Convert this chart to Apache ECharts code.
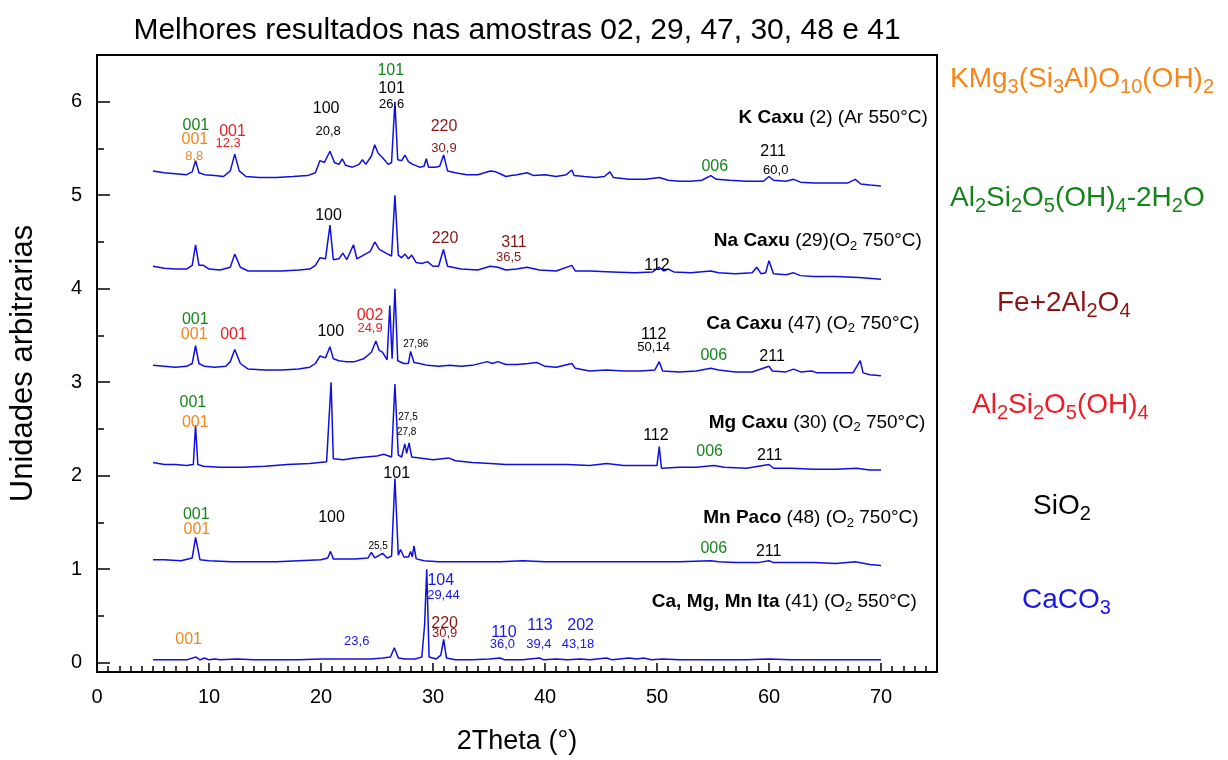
<!DOCTYPE html>
<html>
<head>
<meta charset="utf-8">
<script src="https://cdn.jsdelivr.net/npm/echarts@6/dist/echarts.min.js"></script>
<style>
html, body { margin: 0; padding: 0; background: #fff; }
#chart { width: 1228px; height: 760px; }
</style>
</head>
<body>
<div id="chart"></div>
<script>
// difratogramas deslocados verticalmente (2theta, intensidade arbitraria)
var kCaxu = [[5,5.26],[6,5.24],[7,5.23],[8,5.22],[8.5,5.25],[8.8,5.37],[9.1,5.24],[9.6,5.22],[10.5,5.21],[11.3,5.2],[11.9,5.26],[12.3,5.44],[12.7,5.26],[13.3,5.2],[14.5,5.19],[16,5.19],[17.5,5.2],[18.8,5.21],[19.5,5.24],[19.9,5.37],[20.3,5.35],[20.8,5.47],[21.2,5.35],[21.6,5.33],[21.9,5.39],[22.2,5.32],[22.8,5.3],[23.4,5.33],[23.7,5.38],[24.0,5.33],[24.5,5.42],[24.8,5.54],[25.1,5.45],[25.5,5.4],[26.0,5.33],[26.3,5.35],[26.6,6.0],[26.85,5.38],[27.2,5.37],[27.5,5.43],[27.8,5.36],[28.2,5.33],[28.8,5.3],[29.2,5.31],[29.4,5.39],[29.6,5.3],[30.2,5.3],[30.6,5.31],[30.95,5.43],[31.3,5.26],[32,5.24],[33,5.22],[34,5.22],[34.6,5.24],[35.1,5.26],[35.6,5.25],[36,5.23],[36.5,5.2],[37,5.21],[37.5,5.22],[38.4,5.24],[39,5.21],[40,5.22],[41,5.2],[41.9,5.22],[42.4,5.27],[42.6,5.21],[43.5,5.2],[44.5,5.19],[45.3,5.2],[45.8,5.25],[46.1,5.19],[47.5,5.17],[49,5.17],[50.2,5.19],[51,5.16],[52,5.15],[53,5.15],[54,5.16],[54.8,5.21],[55.3,5.17],[56.5,5.16],[58,5.15],[59.5,5.15],[60,5.2],[60.4,5.16],[61.5,5.15],[62.2,5.17],[62.8,5.14],[64,5.13],[65.5,5.13],[67,5.13],[67.7,5.17],[68.2,5.12],[69,5.11],[70,5.1]];
var naCaxu = [[5,4.24],[6,4.22],[7,4.21],[8,4.21],[8.5,4.25],[8.8,4.47],[9.1,4.25],[9.5,4.25],[10,4.21],[11,4.2],[11.9,4.23],[12.3,4.37],[12.8,4.23],[13.5,4.19],[15,4.19],[16.5,4.19],[18,4.2],[19,4.21],[19.5,4.25],[19.9,4.33],[20.4,4.32],[20.8,4.68],[21.1,4.31],[21.6,4.32],[21.95,4.38],[22.3,4.31],[22.9,4.47],[23.2,4.32],[23.8,4.36],[24.4,4.4],[24.8,4.5],[25.2,4.42],[25.8,4.38],[26.3,4.35],[26.6,5.0],[26.9,4.36],[27.2,4.33],[27.5,4.37],[27.8,4.32],[28.1,4.36],[28.5,4.28],[29,4.27],[29.5,4.29],[30,4.24],[30.5,4.24],[30.93,4.42],[31.3,4.24],[32.5,4.21],[34,4.2],[35.1,4.24],[35.8,4.23],[36.5,4.2],[37.5,4.21],[38.4,4.23],[39.5,4.2],[41,4.19],[42.4,4.25],[42.7,4.19],[44,4.19],[46,4.18],[48,4.17],[49.6,4.18],[50.2,4.23],[50.6,4.19],[51,4.21],[51.5,4.18],[53,4.17],[54.8,4.19],[55.5,4.17],[57,4.16],[58.5,4.17],[58.9,4.23],[59.3,4.16],[59.7,4.17],[60,4.3],[60.4,4.16],[61.5,4.15],[62.2,4.17],[62.8,4.14],[64,4.13],[66,4.13],[68,4.12],[70,4.1]];
var caCaxu = [[5,3.18],[6,3.17],[7,3.16],[8,3.17],[8.5,3.2],[8.8,3.39],[9.1,3.2],[9.6,3.17],[10.5,3.16],[11.5,3.17],[11.9,3.22],[12.3,3.35],[12.8,3.2],[13.5,3.14],[15,3.13],[16.5,3.13],[18,3.14],[19,3.16],[19.5,3.2],[19.9,3.28],[20.4,3.26],[20.8,3.38],[21.1,3.25],[21.6,3.23],[22.2,3.22],[23,3.22],[23.8,3.25],[24.5,3.32],[24.9,3.44],[25.2,3.34],[25.5,3.32],[25.9,3.24],[26.14,3.82],[26.35,3.25],[26.6,4.0],[26.85,3.23],[27.4,3.2],[27.8,3.2],[28.0,3.33],[28.3,3.21],[28.8,3.2],[29.5,3.18],[30.5,3.17],[31.5,3.18],[32.5,3.17],[33.5,3.18],[34.85,3.22],[35.3,3.2],[35.8,3.22],[36.5,3.19],[37.5,3.19],[38.5,3.2],[39.3,3.21],[40,3.17],[41,3.16],[42.4,3.2],[42.7,3.15],[44,3.12],[45.5,3.13],[47,3.12],[48.5,3.12],[49.8,3.13],[50.2,3.22],[50.5,3.12],[52,3.11],[53.5,3.12],[54.8,3.15],[55.5,3.13],[57,3.11],[58.5,3.11],[60,3.17],[60.3,3.12],[61.5,3.11],[62.2,3.14],[62.8,3.11],[63.8,3.12],[64.3,3.1],[66,3.1],[67.5,3.1],[68.15,3.23],[68.4,3.1],[69,3.08],[70,3.07]];
var mgCaxu = [[5,2.14],[6,2.12],[7,2.12],[8,2.11],[8.6,2.12],[8.8,2.54],[9.0,2.12],[9.5,2.1],[11,2.09],[13,2.09],[15,2.1],[17,2.12],[19,2.13],[20.5,2.15],[20.9,3.0],[21.1,2.18],[22,2.17],[23,2.19],[24,2.2],[25,2.21],[25.6,2.23],[26.3,2.2],[26.6,2.98],[26.9,2.22],[27.2,2.2],[27.48,2.34],[27.65,2.24],[27.86,2.35],[28.1,2.2],[28.8,2.19],[30,2.17],[31.4,2.19],[32,2.16],[33.5,2.14],[35.1,2.13],[36.5,2.12],[38,2.12],[40,2.12],[42,2.12],[44,2.11],[45.5,2.13],[47,2.11],[48.5,2.11],[50,2.11],[50.2,2.31],[50.4,2.08],[52,2.09],[53.5,2.09],[55.1,2.11],[56,2.09],[58,2.08],[60,2.12],[60.4,2.08],[62,2.08],[64,2.07],[66,2.07],[67.8,2.08],[69,2.06],[70,2.06]];
var mnPaco = [[5,1.1],[6,1.1],[7.5,1.09],[8.5,1.12],[8.8,1.34],[9.2,1.1],[10,1.09],[12,1.08],[14,1.08],[16,1.08],[18,1.09],[20,1.1],[20.6,1.12],[20.85,1.19],[21.1,1.11],[22,1.11],[23,1.11],[24.2,1.12],[24.5,1.18],[24.8,1.12],[25.5,1.17],[25.9,1.12],[26.3,1.14],[26.6,1.97],[26.9,1.15],[27.1,1.21],[27.4,1.13],[27.8,1.13],[28.0,1.19],[28.15,1.13],[28.3,1.25],[28.5,1.11],[29.2,1.09],[30.5,1.08],[32,1.08],[34,1.08],[36,1.08],[38,1.09],[40,1.08],[42,1.08],[44,1.08],[46,1.08],[48,1.08],[50,1.08],[52,1.08],[54.8,1.09],[55.5,1.08],[57,1.07],[59,1.07],[60,1.09],[60.4,1.07],[62,1.07],[64,1.07],[66,1.06],[67.7,1.08],[69,1.05],[70,1.04]];
var ita = [[5,0.03],[6,0.03],[8,0.03],[8.85,0.06],[9.2,0.03],[9.6,0.05],[10,0.03],[10.5,0.04],[11,0.03],[12.5,0.04],[14,0.03],[16,0.03],[18,0.03],[20,0.04],[21,0.04],[22,0.04],[23.6,0.04],[24.5,0.04],[25.5,0.05],[26.2,0.06],[26.55,0.16],[26.9,0.05],[27.5,0.04],[28.4,0.04],[29.0,0.06],[29.25,0.4],[29.44,1.0],[29.65,0.06],[30.3,0.04],[30.7,0.08],[30.95,0.25],[31.2,0.05],[32,0.03],[33.5,0.03],[35,0.04],[36,0.05],[36.4,0.03],[38,0.03],[39.5,0.05],[39.9,0.03],[41,0.04],[42,0.03],[43.2,0.04],[44,0.03],[45.5,0.05],[46,0.03],[47.5,0.05],[48.2,0.04],[48.8,0.05],[49.5,0.03],[50.5,0.04],[52,0.03],[55,0.03],[58,0.03],[60,0.04],[62,0.03],[65,0.03],[67,0.03],[70,0.03]];

var traces = [kCaxu, naCaxu, caCaxu, mgCaxu, mnPaco, ita];

// indexacao dos picos: [2theta, y, texto, fase, tipo]
var peakLabels = [
  [8.83,5.75,'001','kaol2','hkl'],[8.74,5.59,'001','mica','hkl'],[8.68,5.41,'8,8','mica','ang'],
  [12.1,5.68,'001','kaol','hkl'],[11.71,5.55,'12,3','kaol','ang'],
  [20.46,5.93,'100','quartz','hkl'],[20.64,5.68,'20,8','quartz','ang'],
  [26.23,6.33,'101','kaol2','hkl'],[26.3,6.14,'101','quartz','hkl'],[26.3,5.97,'26,6','quartz','ang'],
  [30.98,5.73,'220','spinel','hkl'],[30.98,5.5,'30,9','spinel','ang'],
  [55.16,5.31,'006','kaol2','hkl'],[60.36,5.47,'211','quartz','hkl'],[60.6,5.26,'60,0','quartz','ang'],
  [20.67,4.78,'100','quartz','hkl'],[31.07,4.54,'220','spinel','hkl'],
  [37.23,4.49,'311','spinel','hkl'],[36.75,4.34,'36,5','spinel','ang'],[50.0,4.25,'112','quartz','hkl'],
  [8.77,3.67,'001','kaol2','hkl'],[8.68,3.51,'001','mica','hkl'],[12.19,3.51,'001','kaol','hkl'],
  [20.87,3.54,'100','quartz','hkl'],[24.38,3.71,'002','kaol','hkl'],[24.38,3.57,'24,9','kaol','ang'],
  [28.46,3.41,'27,96','quartz','tiny'],[49.7,3.51,'112','quartz','hkl'],[49.7,3.37,'50,14','quartz','ang'],
  [55.07,3.28,'006','kaol2','hkl'],[60.27,3.27,'211','quartz','hkl'],
  [8.56,2.78,'001','kaol2','hkl'],[8.77,2.57,'001','mica','hkl'],
  [27.77,2.63,'27,5','quartz','tiny'],[27.65,2.46,'27,8','quartz','tiny'],
  [49.9,2.43,'112','quartz','hkl'],[54.7,2.26,'006','kaol2','hkl'],[60.06,2.22,'211','quartz','hkl'],
  [26.76,2.02,'101','quartz','hkl'],[8.86,1.58,'001','kaol2','hkl'],[8.92,1.42,'001','mica','hkl'],
  [20.94,1.55,'100','quartz','hkl'],[25.1,1.24,'25,5','quartz','tiny'],
  [55.07,1.22,'006','kaol2','hkl'],[59.97,1.19,'211','quartz','hkl'],
  [30.69,0.88,'104','calcite','hkl'],[30.93,0.72,'29,44','calcite','ang'],
  [31.04,0.42,'220','spinel','hkl'],[31.04,0.31,'30,9','spinel','ang'],
  [23.19,0.23,'23,6','calcite','ang'],[8.18,0.25,'001','mica','hkl'],
  [36.33,0.32,'110','calcite','hkl'],[36.19,0.2,'36,0','calcite','ang'],
  [39.55,0.40,'113','calcite','hkl'],[39.46,0.19,'39,4','calcite','ang'],
  [43.18,0.40,'202','calcite','hkl'],[42.94,0.19,'43,18','calcite','ang']
];

// nome da amostra: [x (borda direita), y, nome, condicao]
var sampleNames = [
  [74.18,5.83,'K Caxu',' (2) (Ar 550°C)'],
  [73.65,4.51,'Na Caxu',' (29)(O{s|2} 750°C)'],
  [73.44,3.63,'Ca Caxu',' (47) (O{s|2} 750°C)'],
  [73.95,2.57,'Mg Caxu',' (30) (O{s|2} 750°C)'],
  [73.36,1.55,'Mn Paco',' (48) (O{s|2} 750°C)'],
  [73.2,0.65,'Ca, Mg, Mn Ita',' (41) (O{s|2} 550°C)']
];

var xMajor = [0, 10, 20, 30, 40, 50, 60, 70];
var yMajor = [0, 1, 2, 3, 4, 5, 6];
var yMinor = [0.5, 1.5, 2.5, 3.5, 4.5, 5.5, 6.5];

var phaseColors = {
  mica: '#f5861a', kaol2: '#15841a', spinel: '#8b1616',
  kaol: '#ee1c24', quartz: '#000000', calcite: '#1717ee'
};
var kindSize = { hkl: 16, ang: 13, tiny: 10 };

var phaseLegend = [
  ['mica', 'KMg{s|3}(Si{s|3}Al)O{s|10}(OH){s|2}', 950, 79],
  ['kaol2', 'Al{s|2}Si{s|2}O{s|5}(OH){s|4}-2H{s|2}O', 950, 198],
  ['spinel', 'Fe+2Al{s|2}O{s|4}', 997, 303],
  ['kaol', 'Al{s|2}Si{s|2}O{s|5}(OH){s|4}', 972, 405],
  ['quartz', 'SiO{s|2}', 1033, 506],
  ['calcite', 'CaCO{s|3}', 1022, 600]
];

var FONT = '"Liberation Sans", Arial, sans-serif';
var chart = echarts.init(document.getElementById('chart'));

var series = traces.map(function (d) {
  return {
    type: 'line', data: d, showSymbol: false, silent: true,
    lineStyle: { color: '#0f0fe0', width: 1.5 }, z: 2
  };
});

var labelData = peakLabels.map(function (p) {
  return {
    value: [p[0], p[1]],
    label: { formatter: p[2], color: phaseColors[p[3]], fontSize: kindSize[p[4]] }
  };
});
sampleNames.forEach(function (s) {
  labelData.push({
    value: [s[0], s[1]],
    label: {
      formatter: '{b|' + s[2] + '}' + s[3],
      color: '#000', fontSize: 19, lineHeight: 24, align: 'right',
      rich: {
        b: { fontWeight: 'bold', fontSize: 19, color: '#000', fontFamily: FONT, lineHeight: 24 },
        s: { fontSize: 13, color: '#000', fontFamily: FONT, lineHeight: 12, verticalAlign: 'bottom' }
      }
    }
  });
});

series.push({
  type: 'scatter', data: labelData, symbolSize: 1, silent: true, z: 5,
  itemStyle: { color: 'rgba(0,0,0,0)', opacity: 1 },
  label: {
    show: true, position: 'inside', align: 'center', verticalAlign: 'middle',
    fontFamily: FONT, opacity: 1, textBorderWidth: 0
  }
});

var graphics = [{
  type: 'text', x: 517, y: 31,
  style: { text: 'Melhores resultados nas amostras 02, 29, 47, 30, 48 e 41', fontSize: 30, fontFamily: FONT, fill: '#000', align: 'center', verticalAlign: 'middle' }
}];
phaseLegend.forEach(function (p) {
  var c = phaseColors[p[0]];
  graphics.push({
    type: 'text', x: p[2], y: p[3],
    style: {
      text: p[1], fontSize: 28, lineHeight: 36, fontFamily: FONT, fill: c, align: 'left', verticalAlign: 'middle',
      rich: { s: { fontSize: 20, lineHeight: 18, fontFamily: FONT, fill: c, verticalAlign: 'bottom' } }
    }
  });
});

chart.setOption({
  animation: false,
  backgroundColor: '#fff',
  grid: { left: 97, right: 291, top: 55, bottom: 85, show: true, borderColor: '#000', borderWidth: 2 },
  xAxis: [{
    type: 'value', min: 0, max: 75, position: 'bottom',
    name: '2Theta (°)', nameLocation: 'middle', nameGap: 56,
    nameTextStyle: { fontSize: 27, color: '#000', fontFamily: FONT },
    axisLine: { show: true, onZero: false, lineStyle: { color: '#000', width: 2 } },
    axisTick: { inside: true, length: 9, customValues: xMajor, lineStyle: { color: '#000', width: 1.5 } },
    axisLabel: { customValues: xMajor, fontSize: 20, color: '#000', margin: 15, fontFamily: FONT },
    splitLine: { show: false }
  }, {
    type: 'value', min: 0, max: 75, interval: 1, position: 'bottom',
    axisLine: { show: false, onZero: false },
    axisTick: { inside: true, length: 6, lineStyle: { color: '#000', width: 1.5 } },
    axisLabel: { show: false }, splitLine: { show: false }
  }],
  yAxis: [{
    type: 'value', min: -0.1, max: 6.5, position: 'left',
    name: 'Unidades arbitrarias', nameLocation: 'middle', nameGap: 58,
    nameTextStyle: { fontSize: 31, color: '#000', fontFamily: FONT },
    axisLine: { show: true, onZero: false, lineStyle: { color: '#000', width: 2 } },
    axisTick: { inside: true, length: 13, customValues: yMajor, lineStyle: { color: '#000', width: 1.5 } },
    axisLabel: { customValues: yMajor, fontSize: 20, color: '#000', margin: 15, fontFamily: FONT },
    splitLine: { show: false }
  }, {
    type: 'value', min: -0.1, max: 6.5, position: 'left',
    axisLine: { show: false, onZero: false },
    axisTick: { inside: true, length: 7, customValues: yMinor, lineStyle: { color: '#000', width: 1.5 } },
    axisLabel: { show: false }, splitLine: { show: false }
  }],
  series: series,
  graphic: graphics
});
</script>
</body>
</html>
